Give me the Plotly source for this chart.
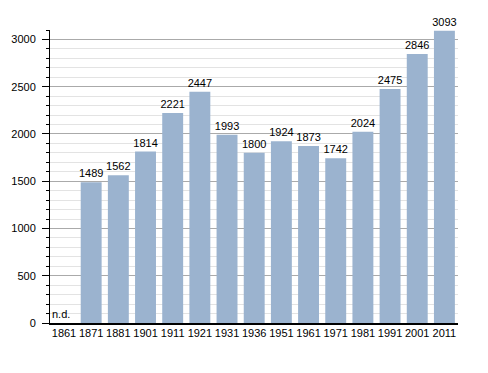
import plotly.graph_objects as go

years = ["1861", "1871", "1881", "1901", "1911", "1921", "1931", "1936",
         "1951", "1961", "1971", "1981", "1991", "2001", "2011"]
population = [None, 1489, 1562, 1814, 2221, 2447, 1993, 1800,
              1924, 1873, 1742, 2024, 2475, 2846, 3093]
missing_label = "n.d."

labels = [("" if v is None else str(v)) for v in population]
FONT = "Liberation Sans, Arial, sans-serif"
FS = 11

fig = go.Figure()
fig.add_trace(go.Bar(
    x=years, y=population,
    marker=dict(color="#9bb3cf", line=dict(width=0)),
    text=labels, textposition="outside", constraintext="none",
    textfont=dict(family=FONT, size=FS, color="black"),
    cliponaxis=False,
))
# category index 0 == first year (no data)
fig.add_annotation(x=0, y=0, text=missing_label, showarrow=False,
                   yanchor="bottom", xshift=-3, yshift=1,
                   font=dict(family=FONT, size=FS, color="black"))

# page body has an 8px margin, so the figure is shrunk and margins offset
fig.update_layout(
    width=480, height=365,
    margin=dict(l=42, r=30, t=22, b=50, autoexpand=False),
    plot_bgcolor="white", paper_bgcolor="white",
    bargap=0.23, showlegend=False,
    font=dict(family=FONT, size=FS, color="black"),
)
fig.update_xaxes(
    type="category", showline=True, linecolor="black", linewidth=1.5,
    ticks="", showgrid=False, tickfont=dict(size=FS), automargin=False,
    ticklabelstandoff=-1,
)
fig.update_yaxes(
    range=[0, 3100], dtick=500, showline=True, linecolor="black", linewidth=1,
    ticks="outside", ticklen=7, tickcolor="black", ticklabelstandoff=4,
    showgrid=True, gridcolor="#aaaaaa", gridwidth=1,
    minor=dict(dtick=100, showgrid=True, gridcolor="#e3e3e3",
               ticks="outside", ticklen=3, tickcolor="black"),
    zeroline=False, tickfont=dict(size=FS), automargin=False,
)

fig.write_html("out.html")
